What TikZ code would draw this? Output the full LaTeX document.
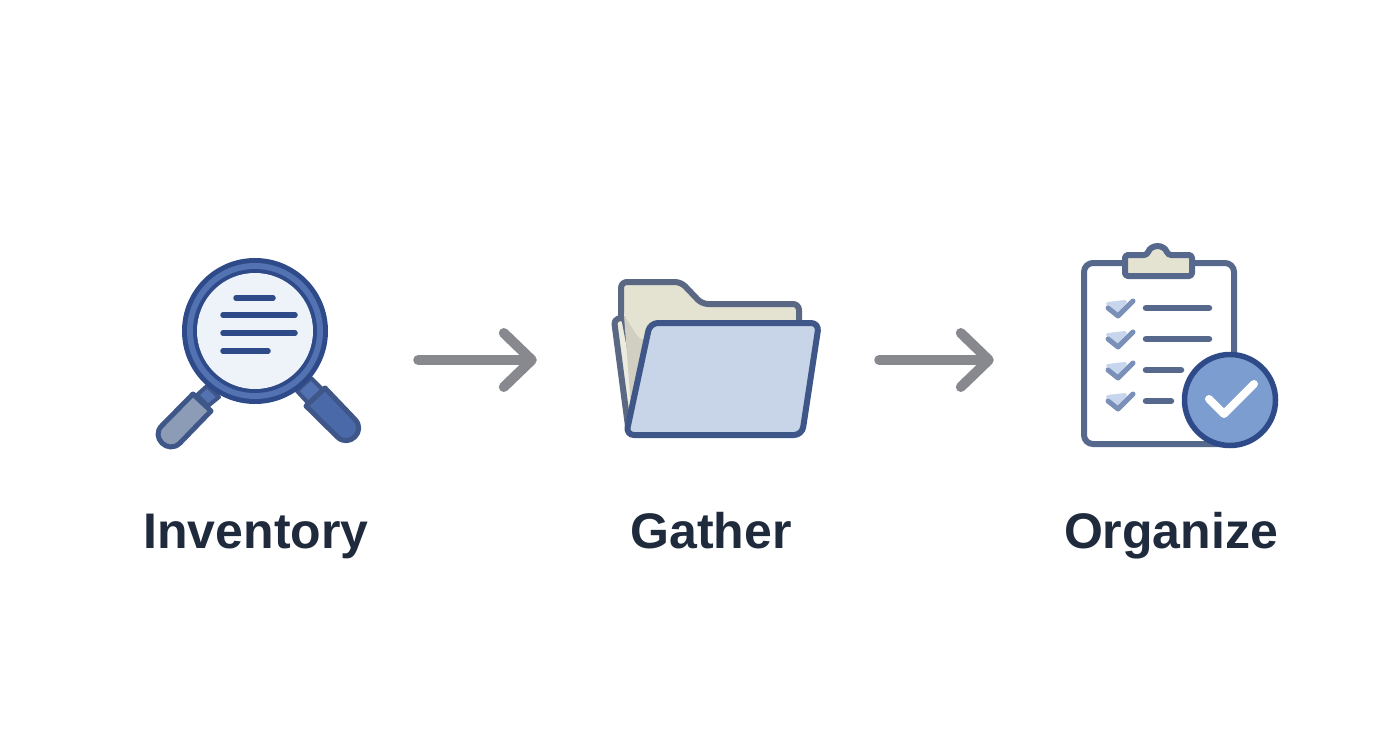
\documentclass[tikz,border=0pt]{standalone}
\usepackage{fontspec}
\setmainfont{Liberation Sans}
\usetikzlibrary{arrows.meta}
\definecolor{ringdark}{HTML}{2F4A88}
\definecolor{ringmid}{HTML}{5272B2}
\definecolor{glass}{HTML}{EEF3F9}
\definecolor{gripgray}{HTML}{8C9BB6}
\definecolor{gripblue}{HTML}{4A69A8}
\definecolor{folderedge}{HTML}{5A6883}
\definecolor{folderback}{HTML}{E4E3D2}
\definecolor{folderfront}{HTML}{C8D5E8}
\definecolor{frontedge}{HTML}{3F5688}
\definecolor{slate}{HTML}{56688C}
\definecolor{checklight}{HTML}{C7D6EC}
\definecolor{checkdark}{HTML}{7B90B8}
\definecolor{badge}{HTML}{7C9DD0}
\definecolor{arrowgray}{HTML}{88888F}
\definecolor{inktext}{HTML}{1F2A3D}
\tikzset{
  iconbox/.style={minimum width=#1,minimum height=10pt,inner sep=0pt},
  steplabel/.style={anchor=base,inner sep=0pt,text=inktext,font=\fontsize{50}{50}\selectfont\bfseries},
  flowarrow/.style={-{Straight Barb[length=28pt,width=54pt,round]},line width=10pt,line cap=round,line join=round,arrowgray},
  textline/.style={line width=5.5pt,line cap=round,ringdark},
  listline/.style={line width=6.5pt,line cap=round,slate},
  tickback/.style={fill=checklight,draw=checklight,line width=4pt,line join=round},
  tickfront/.style={line width=5pt,line cap=round,line join=round,checkdark},
  gripshape/.style={draw=frontedge,line width=5pt,line join=round}
}
\begin{document}
\begin{tikzpicture}[x=1pt,y=-1pt]
    \useasboundingbox [fill=white] (0,0) rectangle (1392,752);
    \node [iconbox=206pt] (inventory) at (258,360) {};
    \node [iconbox=209pt] (gather) at (715.5,360) {};
    \node [iconbox=197pt] (organize) at (1180.5,360) {};
    % magnifier
    \draw [fill=ringmid,draw=frontedge,line width=4pt,line join=round] (197,395) -- (207,386) -- (219,397) -- (208,406) -- cycle;
    \draw [fill=ringmid,draw=frontedge,line width=4pt,line join=round] (297,391) -- (311,378) -- (323,390) -- (309,404) -- cycle;
    \draw [fill=gripgray,gripshape] (193,394) -- (162,425.5) .. controls (150,437) and (168,455) .. (180,443) -- (211,411) -- cycle;
    \draw [fill=gripblue,gripshape] (325,388) -- (354.8,419.2) .. controls (366.6,431) and (349,448.6) .. (337.2,436.8) -- (306,406) -- cycle;
    \fill [ringdark] (255,331) circle (73);
    \fill [ringmid] (255,331) circle (68);
    \fill [ringdark] (255,331) circle (62);
    \fill [glass] (255,331) circle (58);
    \draw [textline] (236,298) -- (273,298);
    \draw [textline] (223,315) -- (295,315);
    \draw [textline] (223,333) -- (295,333);
    \draw [textline] (223,351) -- (268,351);
    % folder
    \draw [fill=folderback!70!white,draw=folderedge,line width=6pt,line join=round,rounded corners=4pt] (614,320) -- (624,317) -- (640,400) -- (629,434) -- cycle;
    \fill [folderback!80!gray] (624,316) -- (650,316) -- (650,400) -- (632,420) -- cycle;
    \fill [folderback,rounded corners=6pt] (624,315) -- (621,282) -- (681,282) -- (702,304) -- (799,304) -- (799,330) -- (640,340) -- cycle;
    \draw [draw=folderedge,line width=6pt,line join=round,rounded corners=6pt] (621,319) -- (621,282) -- (681,282) -- (702,304) -- (799,304) -- (799,330);
    \draw [fill=folderfront,draw=frontedge,line width=6pt,line join=round,rounded corners=8pt] (650,323) -- (819,323) -- (802,435) -- (626,435) -- cycle;
    % clipboard
    \draw [fill=white,draw=slate,line width=6pt,rounded corners=9pt] (1084,263) rectangle (1234,444);
    \draw [fill=folderback,draw=slate,line width=6pt,line join=round,rounded corners=3pt] (1125,255) -- (1147,255) .. controls (1151,244) and (1164,244) .. (1168,255) -- (1192,255) -- (1192,276) -- (1125,276) -- cycle;
    \draw [tickback] (1108,304) -- (1125,302) -- (1117,311) -- cycle;
    \draw [tickfront] (1108,308) -- (1118,316) -- (1133,301);
    \draw [tickback] (1108,335) -- (1125,333) -- (1117,342) -- cycle;
    \draw [tickfront] (1108,339) -- (1118,347) -- (1133,332);
    \draw [tickback] (1108,366) -- (1125,364) -- (1117,373) -- cycle;
    \draw [tickfront] (1108,370) -- (1118,378) -- (1133,363);
    \draw [tickback] (1108,397) -- (1125,395) -- (1117,404) -- cycle;
    \draw [tickfront] (1108,401) -- (1118,409) -- (1133,394);
    \draw [listline] (1146,308) -- (1209,308);
    \draw [listline] (1146,339) -- (1209,339);
    \draw [listline] (1146,370) -- (1181,370);
    \draw [listline] (1146,401) -- (1171,401);
    \draw [fill=badge,draw=ringdark,line width=5.5pt] (1230,400) circle (45.5);
    \draw [white,line width=8pt,line cap=round,line join=round] (1209,399) -- (1224,414) -- (1254,384);
    % arrows
    \draw [flowarrow,shorten <=57pt,shorten >=74pt] (inventory) -- (gather);
    \draw [flowarrow,shorten <=59pt,shorten >=88pt] (gather) -- (organize);
    % labels
    \node [steplabel] (inventorylabel) at (256,548) {Inventory};
    \node [steplabel] (gatherlabel) at (711,548) {Gather};
    \node [steplabel] (organizelabel) at (1171,548) {Organize};
\end{tikzpicture}
\end{document}
